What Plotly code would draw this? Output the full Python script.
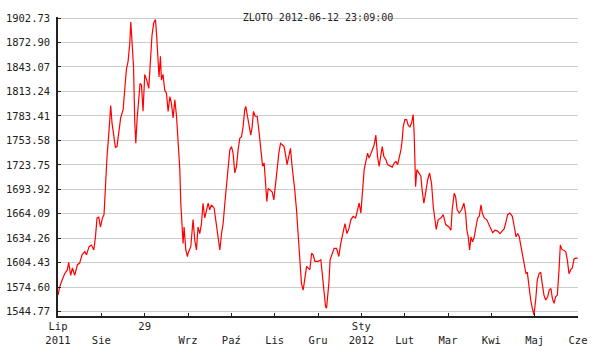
import plotly.graph_objects as go

# day offsets since start of series (2011-06-12 .. 2012-06-12)
days = [0.0, 1.2, 2.8, 4.7, 6.6, 7.5, 8.9, 10.1, 11.7, 13.6, 15.2, 16.9, 18.8, 20.0, 21.8, 23.5, 25.1,
        26.3, 27.4, 28.6, 29.8, 31.2, 32.3, 33.3, 34.4, 35.6, 36.3, 37.0, 37.9, 39.1, 40.3, 41.4,
        42.6, 44.0, 45.7, 46.8, 48.0, 49.2, 50.4, 51.1, 52.0, 53.0, 53.9, 54.6, 55.5, 56.7, 57.6,
        58.6, 59.7, 60.9, 62.3, 63.7, 64.9, 66.0, 67.2, 68.4, 69.3, 70.2, 70.9, 71.9, 72.6, 73.7,
        74.9, 76.1, 77.3, 78.5, 79.6, 80.8, 82.0, 83.2, 84.3, 85.5, 86.2, 87.1, 87.8, 88.5, 89.7,
        90.9, 91.3, 93.2, 94.8, 96.0, 97.2, 98.3, 99.5, 100.7, 101.8, 103.0, 104.2, 105.4, 106.5,
        107.7, 109.6, 111.2, 112.4, 113.6, 114.8, 115.9, 117.1, 118.3, 119.4, 120.6, 121.8, 122.9,
        124.1, 125.3, 126.4, 127.6, 128.8, 129.9, 131.1, 131.8, 133.0, 134.1, 135.3, 136.3, 137.2,
        138.4, 139.8, 141.0, 142.4, 143.6, 144.7, 145.7, 146.6, 147.5, 148.9, 150.3, 151.5, 152.7,
        153.8, 155.0, 156.2, 157.6, 158.7, 159.9, 160.8, 162.0, 163.2, 164.3, 165.3, 166.2, 167.4,
        168.6, 169.8, 170.9, 172.1, 173.3, 174.5, 175.6, 176.8, 178.0, 179.1, 180.3, 182.6, 184.5,
        185.4, 186.6, 187.8, 188.5, 189.2, 190.1, 191.0, 192.4, 193.8, 195.5, 197.1, 198.5, 200.0,
        201.4, 202.8, 204.2, 205.6, 207.2, 208.9, 210.3, 211.4, 212.6, 213.8, 214.9, 216.1, 217.3,
        218.4, 219.6, 220.8, 221.9, 223.1, 224.3, 225.4, 226.6, 227.6, 228.7, 230.2, 231.3, 233.0,
        234.6, 236.0, 237.2, 238.4, 239.5, 240.7, 241.6, 242.3, 243.5, 244.7, 245.8, 247.0, 248.2,
        249.3, 250.0, 250.5, 251.0, 251.9, 253.3, 254.7, 255.6, 256.8, 258.0, 259.4, 260.8, 262.2,
        263.4, 264.6, 265.5, 266.9, 268.8, 270.4, 272.1, 274.4, 275.8, 276.7, 278.1, 279.1, 280.2,
        281.6, 283.3, 284.9, 286.1, 287.0, 288.0, 288.9, 289.9, 291.0, 292.2, 293.4, 294.6, 295.7,
        296.9, 297.8, 299.2, 300.9, 302.5, 303.9, 305.1, 306.7, 308.6, 310.2, 311.8, 313.2, 314.4,
        315.6, 317.2, 318.9, 320.3, 321.5, 322.7, 323.8, 325.0, 326.2, 327.3, 328.5, 329.4, 330.6,
        331.8, 332.9, 334.1, 335.3, 336.4, 337.6, 338.8, 339.9, 341.1, 342.3, 343.7, 344.8, 346.0,
        347.0, 348.2, 349.3, 350.5, 351.7, 352.6, 353.6, 355.0, 356.4, 357.5, 358.7, 359.9, 361.0,
        362.2, 363.4, 364.8]

prices = [1565, 1575, 1583, 1591, 1596, 1605, 1589, 1598, 1589, 1602, 1604, 1614, 1618, 1614, 1624, 1626, 1620,
          1636, 1659, 1660, 1648, 1659, 1663, 1701, 1734, 1760, 1783, 1796, 1775, 1756, 1745, 1746,
          1766, 1781, 1791, 1815, 1840, 1850, 1872, 1898, 1868, 1844, 1775, 1750, 1779, 1803, 1823,
          1821, 1789, 1834, 1827, 1817, 1860, 1882, 1897, 1901, 1880, 1856, 1831, 1856, 1827, 1834,
          1815, 1811, 1789, 1807, 1799, 1781, 1803, 1783, 1750, 1718, 1677, 1648, 1628, 1648, 1620,
          1612, 1616, 1624, 1657, 1632, 1620, 1648, 1640, 1652, 1677, 1659, 1669, 1677, 1669,
          1675, 1671, 1652, 1636, 1620, 1640, 1652, 1677, 1701, 1722, 1742, 1746, 1738,
          1714, 1722, 1742, 1756, 1758, 1770, 1791, 1795, 1783, 1772, 1760, 1770, 1789,
          1783, 1783, 1766, 1746, 1722, 1726, 1697, 1679, 1695, 1693, 1691, 1681, 1705,
          1718, 1738, 1750, 1748, 1746, 1734, 1724, 1734, 1744, 1722, 1710, 1693, 1669,
          1636, 1604, 1579, 1571, 1587, 1600, 1598, 1596, 1616, 1614, 1606, 1606, 1608,
          1592, 1563, 1551, 1549, 1563, 1579, 1608, 1616, 1622, 1622, 1612, 1628, 1640,
          1652, 1640, 1646, 1657, 1661, 1659, 1669, 1677, 1665, 1697, 1718, 1728, 1738,
          1732, 1738, 1742, 1748, 1760, 1734, 1722, 1734, 1746, 1734, 1730, 1724, 1722,
          1721, 1726, 1728, 1724, 1732, 1742, 1754, 1770, 1779, 1779, 1772, 1770, 1775,
          1785, 1762, 1722, 1697, 1718, 1714, 1710, 1693, 1677, 1689, 1705, 1714, 1701,
          1673, 1657, 1645, 1657, 1659, 1663, 1651, 1648, 1644, 1669, 1689, 1685, 1669,
          1665, 1669, 1677, 1665, 1644, 1636, 1620, 1636, 1630, 1636, 1648, 1659, 1661,
          1675, 1665, 1659, 1657, 1651, 1644, 1641, 1644, 1643, 1640, 1643, 1646, 1654,
          1663, 1665, 1661, 1648, 1636, 1640, 1636, 1624, 1612, 1600, 1591, 1593, 1575,
          1559, 1549, 1541, 1559, 1583, 1591, 1593, 1579, 1565, 1559, 1563, 1571, 1573,
          1561, 1555, 1563, 1565, 1596, 1626, 1621, 1619, 1618, 1608, 1591, 1596, 1598,
          1609, 1610, 1610]

y_ticks = [1544.77, 1574.60, 1604.43, 1634.26, 1664.09, 1693.92, 1723.75, 1753.58,
           1783.41, 1813.24, 1843.07, 1872.90, 1902.73]

x_tick_labels = ["Lip<br>2011", " <br>Sie", "29", " <br>Wrz", " <br>Paź", " <br>Lis", " <br>Gru",
                 "Sty<br>2012", " <br>Lut", " <br>Mar", " <br>Kwi", " <br>Maj", " <br>Cze"]
x_tick_days = [i * 365 / 12 for i in range(13)]

title_text = "ZLOTO 2012-06-12 23:09:00"

font_mono = "DejaVu Sans Mono"

fig = go.Figure()
fig.add_trace(go.Scatter(x=days, y=prices, mode="lines",
                         line=dict(color="#ff0000", width=1.2), showlegend=False,
                         hoverinfo="skip"))

fig.update_layout(
    width=609, height=352,
    margin=dict(l=58, r=31, t=17, b=36),
    paper_bgcolor="white", plot_bgcolor="white",
    font=dict(family=font_mono, size=10, color="#222222"),
    title=dict(text=title_text, x=0.5, xref="paper", xanchor="center",
               y=1.0, yref="paper", yanchor="middle", pad=dict(t=0, b=0),
               font=dict(family=font_mono, size=10, color="#222222")),
)
fig.update_xaxes(range=[0, 365], tickvals=x_tick_days, ticktext=x_tick_labels,
                 automargin=False,
                 showgrid=False, zeroline=False, showline=True, linecolor="#222222",
                 linewidth=1.5, ticks="inside", ticklen=3, tickcolor="#222222",
                 ticklabelstandoff=0,
                 tickangle=0, tickfont=dict(family=font_mono, size=10.5, color="#222222"))
fig.update_yaxes(range=[1539.5, 1904], tickvals=y_ticks,
                 ticktext=[f"{v:.2f}" for v in y_ticks],
                 automargin=False,
                 showgrid=True, gridcolor="#cccccc", gridwidth=1.2,
                 zeroline=False, showline=True, linecolor="#222222", linewidth=1.5,
                 ticks="inside", ticklen=3, tickcolor="#222222",
                 ticklabelstandoff=4,
                 tickfont=dict(family=font_mono, size=10.5, color="#222222"))

fig.write_html("out.html")
